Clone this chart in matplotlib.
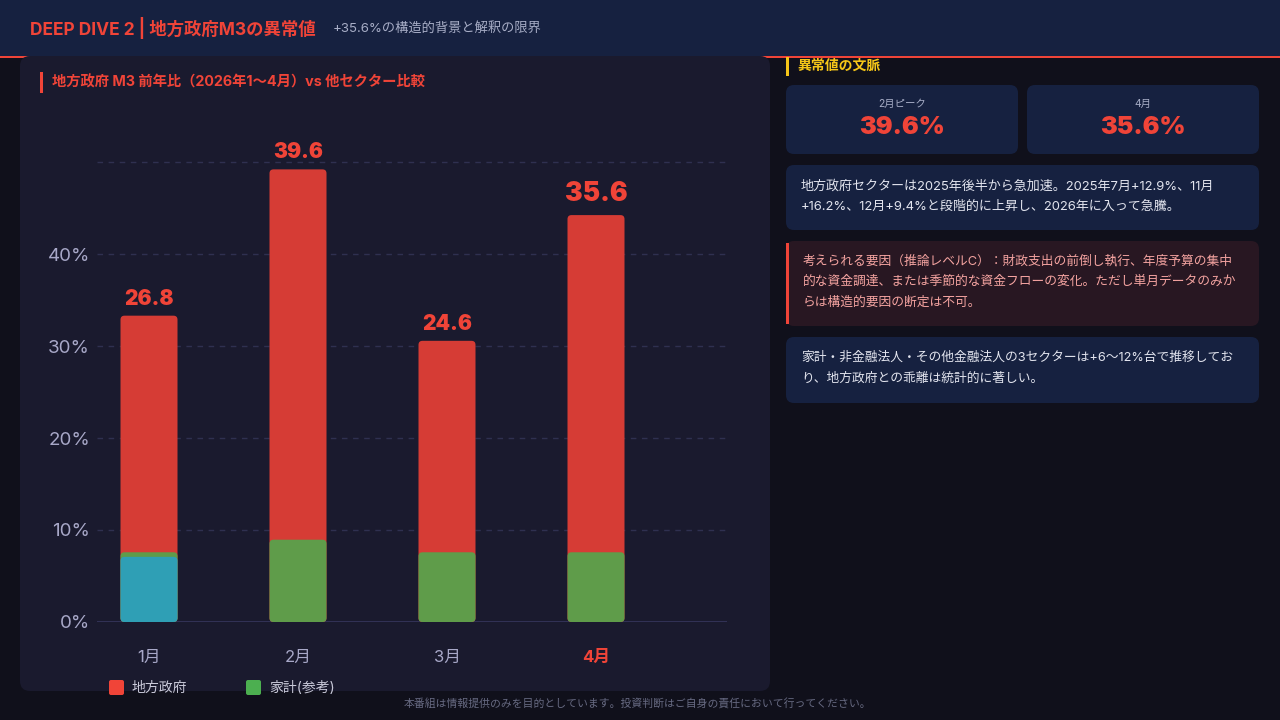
import matplotlib
matplotlib.use("Agg")
import matplotlib.pyplot as plt
from matplotlib.patches import FancyBboxPatch, Rectangle
import numpy as np

FAM = ['Inter', 'Noto Sans CJK JP', 'DejaVu Sans']
plt.rcParams['font.family'] = FAM

# ---------------- data ----------------
months = ['1月', '2月', '3月', '4月']
local_gov = [26.8, 39.6, 24.6, 35.6]          # 地方政府 M3 前年比 (%)
household = [6.1, 7.2, 6.1, 6.1]              # 家計(参考)
hover_jan = [5.7, None, None, None]           # highlighted segment (1月)
ytick_labels = ['0%', '10%', '20%', '30%', '40%', '']
ytick_pcts = [0, 10, 20, 30, 40, 50]
stat_labels = ['2月ピーク', '4月']
stat_values = ['39.6%', '35.6%']

# ---------------- colours ----------------
BG = '#10101b'
PANEL = '#1a1a2e'
NAVY = '#162140'
RED = '#f04438'
BAR_RED = '#d63c35'
BAR_GREEN = '#5f9c4a'
TEAL = '#2f9fb5'
LEG_GREEN = '#4caf50'
YELLOW = '#f5c518'
MUTED = '#a8a8c8'

W, H = 1280, 720
fig = plt.figure(figsize=(12.8, 7.2), dpi=100, facecolor=BG)

bg = fig.add_axes([0, 0, 1, 1])
bg.set_xlim(0, W)
bg.set_ylim(H, 0)
bg.axis('off')
bg.set_facecolor(BG)


def rbox(x0, y0, x1, y1, color, r=8, z=1, **kw):
    p = FancyBboxPatch((x0 + r, y0 + r), (x1 - x0) - 2 * r, (y1 - y0) - 2 * r,
                       boxstyle=f"round,pad={r},rounding_size={r}",
                       facecolor=color, edgecolor='none', zorder=z, **kw)
    bg.add_patch(p)
    return p


# header
bg.add_patch(Rectangle((0, 0), W, 56, facecolor=NAVY, edgecolor='none', zorder=1))
bg.add_patch(Rectangle((0, 56), W, 2, facecolor=RED, edgecolor='none', zorder=2))
bg.text(30, 28, 'DEEP DIVE 2 | 地方政府M3の異常値', color=RED, fontsize=12.5,
        fontweight='bold', va='center', ha='left', zorder=3)
bg.text(333, 28, '+35.6%の構造的背景と解釈の限界', color='#a7adc6', fontsize=9.5,
        va='center', ha='left', zorder=3)

# left panel
rbox(20, 56, 770, 691, PANEL, r=10, z=3)
bg.add_patch(Rectangle((40, 72), 3, 21, facecolor=RED, edgecolor='none', zorder=4))
bg.text(52, 82, '地方政府 M3 前年比（2026年1〜4月）vs 他セクター比較', color=RED,
        fontsize=10.3, fontweight='bold', va='center', ha='left', zorder=4)

# legend
rbox(109, 680, 124, 695, RED, r=2, z=4)
bg.text(132, 688, '地方政府', color='#c8c8d8', fontsize=10, va='center', ha='left', zorder=4)
rbox(246, 680, 261, 695, LEG_GREEN, r=2, z=4)
bg.text(269, 688, '家計(参考)', color='#c8c8d8', fontsize=10, va='center', ha='left', zorder=4)

# right column
bg.add_patch(Rectangle((786, 57), 3, 19, facecolor=YELLOW, edgecolor='none', zorder=4))
bg.text(797, 66, '異常値の文脈', color=YELLOW, fontsize=10, fontweight='bold',
        va='center', ha='left', zorder=4)

for (x0, x1), lab, val in zip([(786, 1018), (1027, 1259)], stat_labels, stat_values):
    rbox(x0, 85, x1, 154, NAVY, r=8, z=3)
    cx = (x0 + x1) / 2
    bg.text(cx, 104, lab, color='#a7adc6', fontsize=7.5, ha='center', va='center', zorder=4)
    bg.text(cx, 128, val, color=RED, fontsize=18, fontweight='black', ha='center',
            va='center', zorder=4)

rbox(786, 165, 1259, 230, NAVY, r=8, z=3)
for i, line in enumerate(['地方政府セクターは2025年後半から急加速。2025年7月+12.9%、11月',
                          '+16.2%、12月+9.4%と段階的に上昇し、2026年に入って急騰。']):
    bg.text(801, 186 + 21 * i, line, color='#e2e4ee', fontsize=9.4, ha='left',
            va='center', zorder=4)

rbox(786, 241, 1259, 326, '#281722', r=8, z=3)
bg.add_patch(Rectangle((786, 243), 3, 81, facecolor=RED, edgecolor='none', zorder=4))
for i, line in enumerate(['考えられる要因（推論レベルC）：財政支出の前倒し執行、年度予算の集中',
                          '的な資金調達、または季節的な資金フローの変化。ただし単月データのみか',
                          'らは構造的要因の断定は不可。']):
    bg.text(803, 261 + 21 * i, line, color='#f4a3a0', fontsize=9.2, ha='left',
            va='center', zorder=4)

rbox(786, 337, 1259, 403, NAVY, r=8, z=3)
for i, line in enumerate(['家計・非金融法人・その他金融法人の3セクターは+6〜12%台で推移してお',
                          'り、地方政府との乖離は統計的に著しい。']):
    bg.text(801, 358 + 21 * i, line, color='#e2e4ee', fontsize=9.2, ha='left',
            va='center', zorder=4)

# footer
bg.text(638, 704, '本番組は情報提供のみを目的としています。投資判断はご自身の責任において行ってください。',
        color='#676a82', fontsize=7.8, ha='center', va='center', zorder=4)

# ---------------- chart ----------------
ax_left, ax_right, ax_bottom, ax_top = 97, 727, 622, 130
ax = fig.add_axes([ax_left / W, (H - ax_bottom) / H, (ax_right - ax_left) / W,
                   (ax_bottom - ax_top) / H])
ax.set_facecolor('none')
ax.set_zorder(5)

px_per_x = 149.0
px_per_y = 11.43
ax.set_xlim(-52 / px_per_x, 3 + 131 / px_per_x)
ax.set_ylim(0, (ax_bottom - ax_top) / px_per_y)

# tick scale used by the source chart (10% step every 92 px)
tick_scale = 9.2 / px_per_y
tick_pos = [p * tick_scale for p in ytick_pcts]

for s in ax.spines.values():
    s.set_visible(False)
for yp in tick_pos[1:]:
    ax.axhline(yp, color='#2f3050', lw=1, ls=(0, (4, 4)), zorder=0)
ax.axhline(0, color='#34345a', lw=2, zorder=1)

x = np.arange(len(months))
bw = 57 / px_per_x
bars_r = ax.bar(x, local_gov, width=bw, color=BAR_RED, zorder=2)
bars_g = ax.bar(x, household, width=bw, color=BAR_GREEN, zorder=3)
hx = [i for i, v in enumerate(hover_jan) if v is not None]
hv = [v for v in hover_jan if v is not None]
bars_t = ax.bar(hx, hv, width=bw, color=TEAL, zorder=4)

# round the bar corners
aspect = px_per_x / px_per_y
rs = 4 / px_per_x
for container in (bars_r, bars_g, bars_t):
    for b in container:
        x0, y0 = b.get_x(), b.get_y()
        w, h = b.get_width(), b.get_height()
        p = FancyBboxPatch((x0, y0), w, h, boxstyle=f"round,pad=0,rounding_size={rs}",
                           mutation_aspect=aspect, facecolor=b.get_facecolor(),
                           edgecolor='none', zorder=b.get_zorder())
        b.set_visible(False)
        ax.add_patch(p)

# value labels
for i, v in enumerate(local_gov):
    big = i == len(local_gov) - 1
    ax.annotate(f'{v:.1f}', (x[i], v), xytext=(0, 6 if big else 5),
                textcoords='offset points', ha='center', va='bottom', color=RED,
                fontsize=19 if big else 15, fontweight='black', zorder=6)

ax.set_yticks(tick_pos)
ax.set_yticklabels(ytick_labels)
ax.set_xticks(x)
ax.set_xticklabels(months)
ax.tick_params(axis='y', length=0, pad=5, labelsize=13.5, labelcolor=MUTED)
ax.tick_params(axis='x', length=0, pad=20, labelsize=12, labelcolor=MUTED)
lbl = ax.get_xticklabels()[-1]
lbl.set_color(RED)
lbl.set_fontweight('bold')

fig.savefig('out.png', dpi=100, facecolor=BG)
